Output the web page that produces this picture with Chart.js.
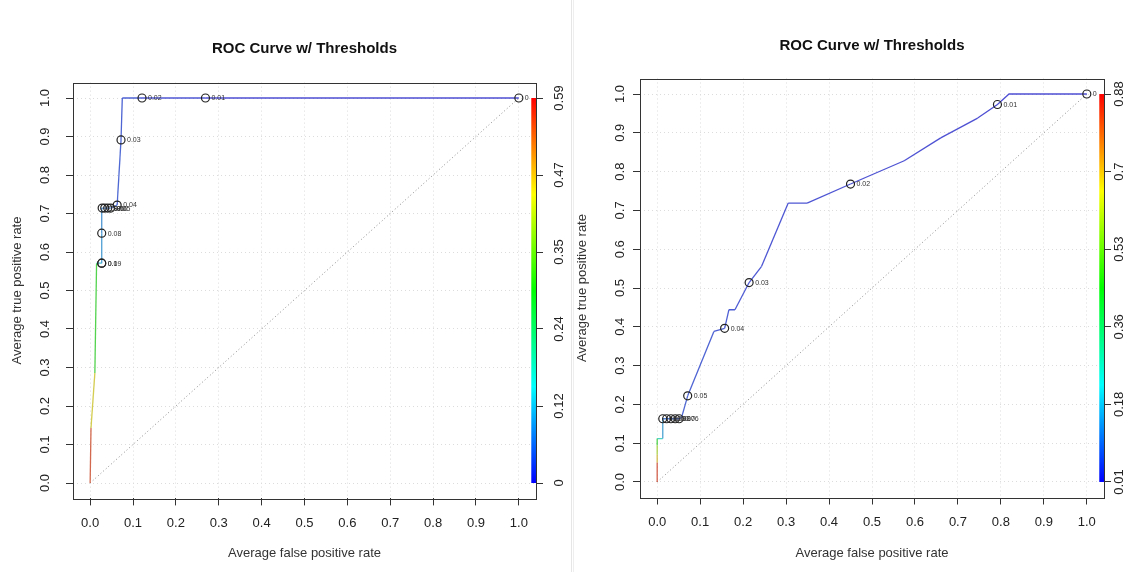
<!DOCTYPE html>
<html lang="en">
<head>
<meta charset="UTF-8">
<title>ROC Curve w/ Thresholds</title>
<script src="https://cdn.jsdelivr.net/npm/chart.js"></script>
<style>
    body { margin: 0; background: #fff; }
    #wrap { position: relative; width: 1134px; height: 572px; overflow: hidden; }
    .panel { position: absolute; top: 0; }
    #leftPanel { left: 0; }
    #rightPanel { left: 575px; }
    #divider { position: absolute; left: 571px; top: 0; width: 3px; height: 572px;
               border-left: 1px solid #e6e6e6; border-right: 1px solid #eeeeee; box-sizing: border-box; }
</style>
</head>
<body>
<div id="wrap">
    <div class="panel" id="leftPanel"><canvas id="rocLeft" width="570" height="572"></canvas></div>
    <div id="divider"></div>
    <div class="panel" id="rightPanel"><canvas id="rocRight" width="559" height="572"></canvas></div>
</div>

<script>
    // axis ticks shared by both plots
    const axisTicks = [0, 0.1, 0.2, 0.3, 0.4, 0.5, 0.6, 0.7, 0.8, 0.9, 1.0];
    const keyTicks = [0, 0.2, 0.4, 0.6, 0.8, 1.0];
    const diagX = [0, 1];
    const diagY = [0, 1];

    // left plot: averaged ROC curve, cutoff per point
    const leftFpr = [0, 0.002, 0.011, 0.015, 0.027, 0.027, 0.027, 0.028, 0.034, 0.041, 0.048, 0.063, 0.072, 0.075, 0.121, 0.269, 1.0];
    const leftTpr = [0, 0.143, 0.286, 0.571, 0.571, 0.649, 0.714, 0.714, 0.714, 0.714, 0.714, 0.722, 0.891, 1.0, 1.0, 1.0, 1.0];
    const leftThr = [0.59, 0.56, 0.45, 0.30, 0.13, 0.09, 0.08, 0.07, 0.065, 0.06, 0.055, 0.04, 0.03, 0.025, 0.02, 0.01, 0];
    const leftCutX = [0.027, 0.027, 0.027, 0.028, 0.034, 0.041, 0.048, 0.063, 0.072, 0.121, 0.269, 1.0];
    const leftCutY = [0.571, 0.571, 0.649, 0.714, 0.714, 0.714, 0.714, 0.722, 0.891, 1.0, 1.0, 1.0];
    const leftCutLabels = ['0.1', '0.09', '0.08', '0.07', '0.06', '0.06', '0.05', '0.04', '0.03', '0.02', '0.01', '0'];
    const leftKeyLabels = ['0', '0.12', '0.24', '0.35', '0.47', '0.59'];
    const leftKeyRange = [0, 0.59];

    // right plot
    const rightFpr = [0, 0, 0, 0, 0, 0.013, 0.013, 0.022, 0.032, 0.042, 0.051, 0.057, 0.071, 0.132, 0.157, 0.167, 0.181, 0.214, 0.243, 0.305, 0.349, 0.450, 0.575, 0.660, 0.746, 0.792, 0.819, 1.0];
    const rightTpr = [0, 0.05, 0.07, 0.095, 0.112, 0.112, 0.163, 0.163, 0.163, 0.163, 0.163, 0.167, 0.222, 0.388, 0.396, 0.444, 0.444, 0.514, 0.556, 0.719, 0.719, 0.768, 0.828, 0.887, 0.938, 0.973, 1.0, 1.0];
    const rightThr = [0.88, 0.85, 0.70, 0.60, 0.45, 0.25, 0.15, 0.09, 0.08, 0.07, 0.06, 0.055, 0.05, 0.045, 0.04, 0.035, 0.033, 0.03, 0.028, 0.025, 0.022, 0.02, 0.017, 0.015, 0.012, 0.01, 0.008, 0];
    const rightCutX = [0.013, 0.022, 0.032, 0.042, 0.051, 0.071, 0.157, 0.214, 0.450, 0.792, 1.0];
    const rightCutY = [0.163, 0.163, 0.163, 0.163, 0.163, 0.222, 0.396, 0.514, 0.768, 0.973, 1.0];
    const rightCutLabels = ['0.1', '0.09', '0.08', '0.07', '0.06', '0.05', '0.04', '0.03', '0.02', '0.01', '0'];
    const rightKeyLabels = ['0.01', '0.18', '0.36', '0.53', '0.7', '0.88'];
    const rightKeyRange = [0.01, 0.88];

    Chart.defaults.font.family = '"Liberation Sans", Arial, Helvetica, sans-serif';

    // rainbow palette like ROCR: low cutoff blue, high cutoff red
    function cutoffColor(thr, range) {
        let t = (thr - range[0]) / (range[1] - range[0]);
        t = Math.max(0, Math.min(1, t));
        const hue = 240 * (1 - t);
        return 'hsla(' + hue + ', 60%, 52%, 0.9)';
    }

    const toPoints = (xs, ys) => xs.map((x, i) => ({x: x, y: ys[i]}));

    // cutoff labels next to circles, colour key strip and the frame
    const rocExtras = {
        id: 'rocExtras',
        afterDatasetsDraw(chart) {
            const ctx = chart.ctx;
            const meta = chart.getDatasetMeta(0);
            const labels = chart.data.datasets[0].cutoffLabels;
            ctx.save();
            ctx.font = '7px "Liberation Sans", Arial, sans-serif';
            ctx.fillStyle = '#333';
            ctx.textBaseline = 'middle';
            meta.data.forEach((pt, i) => {
                ctx.fillText(labels[i], pt.x + 6, pt.y + 0.5);
            });
            ctx.restore();

            // colour key inside the right edge of the plot region
            const xs = chart.scales.x, ys = chart.scales.y;
            const area = chart.chartArea;
            const top = ys.getPixelForValue(1), bottom = ys.getPixelForValue(0);
            const left = xs.getPixelForValue(1.029);
            const grad = ctx.createLinearGradient(0, bottom, 0, top);
            for (let k = 0; k <= 12; k++) {
                grad.addColorStop(k / 12, 'hsl(' + (240 - 240 * k / 12) + ', 100%, 50%)');
            }
            ctx.save();
            ctx.fillStyle = grad;
            ctx.fillRect(left, top, area.right - left, bottom - top);
            ctx.restore();
        },
        afterDraw(chart) {
            const a = chart.chartArea;
            const ctx = chart.ctx;
            ctx.save();
            ctx.strokeStyle = '#333';
            ctx.lineWidth = 1;
            ctx.strokeRect(Math.round(a.left) + 0.5, Math.round(a.top) + 0.5,
                           Math.round(a.right - a.left), Math.round(a.bottom - a.top));
            ctx.restore();
        }
    };

    function makeRoc(canvasId, cfg) {
        const ctx = document.getElementById(canvasId).getContext('2d');
        return new Chart(ctx, {
            type: 'line',
            data: {
                datasets: [{
                    data: toPoints(cfg.cutX, cfg.cutY),
                    cutoffLabels: cfg.cutLabels,
                    showLine: false,
                    pointStyle: 'circle',
                    pointRadius: 4,
                    pointBorderWidth: 1.2,
                    pointBorderColor: '#222',
                    pointBackgroundColor: 'rgba(0,0,0,0)'
                }, {
                    data: toPoints(cfg.fpr, cfg.tpr),
                    borderWidth: 1.3,
                    pointRadius: 0,
                    tension: 0,
                    segment: {
                        borderColor: c => cutoffColor(cfg.thr[c.p1DataIndex], cfg.keyRange)
                    }
                }, {
                    data: toPoints(diagX, diagY),
                    borderColor: '#8a8a8a',
                    borderWidth: 1,
                    borderDash: [1, 2.5],
                    pointRadius: 0
                }]
            },
            options: {
                responsive: false,
                animation: false,
                events: [],
                layout: { padding: 0 },
                plugins: {
                    legend: { display: false },
                    tooltip: { enabled: false },
                    title: {
                        display: true,
                        fullSize: false,
                        text: 'ROC Curve w/ Thresholds',
                        color: '#111',
                        font: { size: 15, weight: 'bold' },
                        padding: { top: cfg.titleTop, bottom: cfg.titleBottom }
                    }
                },
                scales: {
                    x: {
                        type: 'linear', position: 'bottom', min: -0.04, max: 1.04,
                        afterBuildTicks: s => { s.ticks = axisTicks.map(v => ({value: v})); },
                        afterFit: s => { s.height = cfg.xHeight; },
                        ticks: { minRotation: 0, maxRotation: 0, autoSkip: false, padding: cfg.xPad,
                                 color: '#222', font: { size: 13 }, callback: v => v.toFixed(1) },
                        grid: { color: '#dcdcdc', tickColor: '#333', tickLength: 7 },
                        border: { display: false, dash: [1, 3] },
                        title: { display: true, text: 'Average false positive rate', color: '#333',
                                 font: { size: 13 }, padding: { top: 0, bottom: 11 } }
                    },
                    y: {
                        type: 'linear', position: 'left', min: -0.04, max: 1.04,
                        afterBuildTicks: s => { s.ticks = axisTicks.map(v => ({value: v})); },
                        afterFit: s => { s.width = cfg.yWidth; },
                        ticks: { minRotation: 90, maxRotation: 90, crossAlign: 'center', autoSkip: false,
                                 padding: cfg.yPad, color: '#222', font: { size: 13 }, callback: v => v.toFixed(1) },
                        grid: { color: '#dcdcdc', tickColor: '#333', tickLength: 7 },
                        border: { display: false, dash: [1, 3] },
                        title: { display: true, text: 'Average true positive rate', color: '#333',
                                 font: { size: 13 }, padding: { top: cfg.yTitlePad, bottom: 0 } }
                    },
                    key: {
                        type: 'linear', position: 'right', min: -0.04, max: 1.04,
                        afterBuildTicks: s => { s.ticks = keyTicks.map(v => ({value: v})); },
                        afterFit: s => { s.width = cfg.keyWidth; },
                        ticks: { minRotation: 90, maxRotation: 90, crossAlign: 'center', autoSkip: false,
                                 padding: cfg.keyPad, color: '#222', font: { size: 13 },
                                 callback: (v, i) => cfg.keyLabels[i] },
                        grid: { drawOnChartArea: false, color: '#333', tickLength: 7 },
                        border: { display: false }
                    }
                }
            },
            plugins: [rocExtras]
        });
    }

    makeRoc('rocLeft', {
        fpr: leftFpr, tpr: leftTpr, thr: leftThr,
        cutX: leftCutX, cutY: leftCutY, cutLabels: leftCutLabels,
        keyLabels: leftKeyLabels, keyRange: leftKeyRange,
        titleTop: 40, titleBottom: 24.6, xHeight: 73.6, xPad: 10,
        yWidth: 73, yPad: 12, yTitlePad: 10, keyWidth: 34, keyPad: 4
    });

    makeRoc('rocRight', {
        fpr: rightFpr, tpr: rightTpr, thr: rightThr,
        cutX: rightCutX, cutY: rightCutY, cutLabels: rightCutLabels,
        keyLabels: rightKeyLabels, keyRange: rightKeyRange,
        titleTop: 37, titleBottom: 23.5, xHeight: 74.5, xPad: 10,
        yWidth: 65, yPad: 4, yTitlePad: 0, keyWidth: 30, keyPad: -4
    });
</script>
</body>
</html>
